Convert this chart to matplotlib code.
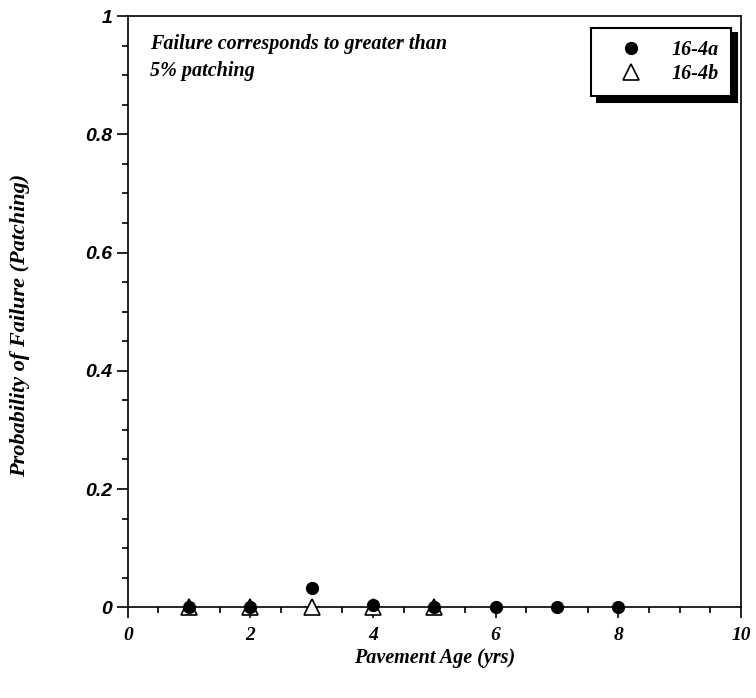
import numpy as np
import matplotlib
matplotlib.use("Agg")
from matplotlib import pyplot as plt
from matplotlib.ticker import MultipleLocator

# data
age_a = [1, 2, 3, 4, 5, 6, 7, 8]
prob_a = [0, 0, 0.032, 0.004, 0, 0, 0, 0]
age_b = [1, 2, 3, 4, 5]
prob_b = [0, 0, 0, 0, 0]
xticks = [0, 2, 4, 6, 8, 10]
yticks = [0, 0.2, 0.4, 0.6, 0.8, 1]
yticklabels = ["0", "0.2", "0.4", "0.6", "0.8", "1"]

plt.rcParams['font.family'] = ['Liberation Serif', 'DejaVu Serif']
plt.rcParams['font.style'] = 'italic'
plt.rcParams['font.weight'] = 'bold'

fig = plt.figure(figsize=(7.56, 6.98), dpi=100)
ax = fig.add_axes([0.169, 0.130, 0.811, 0.847])

ax.plot(age_b, prob_b, '^', mfc='white', mec='black', mew=1.2, markersize=12, label='16-4b',
        clip_on=False, zorder=3)
ax.plot(age_a, prob_a, 'o', color='black', markersize=8.5, label='16-4a', clip_on=False, zorder=4)

ax.set_xlim(0, 10)
ax.set_ylim(0, 1)
ax.set_xticks(xticks)
ax.set_yticks(yticks)
ax.set_yticklabels(yticklabels, family=['Liberation Sans', 'DejaVu Sans'], fontsize=13,
                   style='italic', weight='bold')
ax.xaxis.set_minor_locator(MultipleLocator(0.5))
ax.yaxis.set_minor_locator(MultipleLocator(0.05))
ax.tick_params(which='major', direction='out', length=8, width=1.2, labelsize=14, pad=6,
               top=False, right=False)
ax.tick_params(axis='y', which='major', pad=3)
ax.tick_params(which='minor', direction='out', length=4, width=1.2, top=False, right=False)
for s in ax.spines.values():
    s.set_linewidth(1.2)

ax.set_xlabel('Pavement Age (yrs)', fontsize=14.5, fontweight='bold', labelpad=3)
ax.set_ylabel('Probability of Failure (Patching)', fontsize=16, fontweight='bold')
ax.yaxis.set_label_coords(-0.160, 0.477)

ax.text(0.036, 0.97, 'Failure corresponds to greater than\n5% patching', transform=ax.transAxes,
        fontsize=14.5, va='top', ha='left', linespacing=1.45)

handles, labels = ax.get_legend_handles_labels()
leg = ax.legend(handles[::-1], labels[::-1], loc='upper right', bbox_to_anchor=(0.984, 0.98),
                borderaxespad=0, fontsize=14.5, frameon=True, fancybox=False,
                shadow={'color': 'black', 'alpha': 1, 'ox': 4, 'oy': -4}, edgecolor='black',
                handletextpad=0.6, borderpad=0.6, labelspacing=0.2, handlelength=2.8)
leg.get_frame().set_linewidth(1.5)
for t in leg.get_texts():
    t.set_ha('right')

fig.savefig('out.png', dpi=100)
